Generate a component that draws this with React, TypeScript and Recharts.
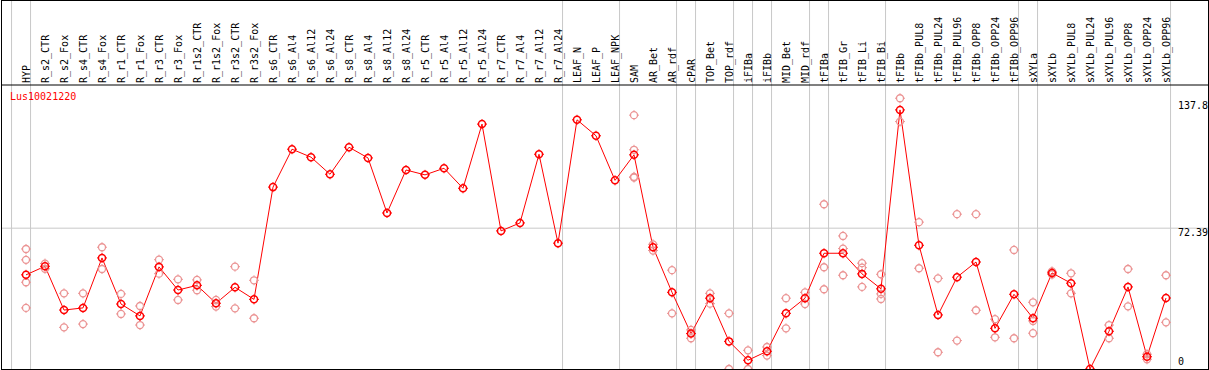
import React from 'react';
import { ComposedChart, Line, Scatter, XAxis, YAxis, ReferenceLine } from 'recharts';

const categories = [
  'HYP', 'R_s2_CTR', 'R_s2_Fox', 'R_s4_CTR', 'R_s4_Fox', 'R_r1_CTR', 'R_r1_Fox', 'R_r3_CTR', 'R_r3_Fox',
  'R_r1s2_CTR', 'R_r1s2_Fox', 'R_r3s2_CTR', 'R_r3s2_Fox', 'R_s6_CTR', 'R_s6_Al4', 'R_s6_Al12', 'R_s6_Al24',
  'R_s8_CTR', 'R_s8_Al4', 'R_s8_Al12', 'R_s8_Al24', 'R_r5_CTR', 'R_r5_Al4', 'R_r5_Al12', 'R_r5_Al24',
  'R_r7_CTR', 'R_r7_Al4', 'R_r7_Al12', 'R_r7_Al24', 'LEAF_N', 'LEAF_P', 'LEAF_NPK', 'SAM', 'AR_Bet', 'AR_rdf',
  'cPAR', 'TOP_Bet', 'TOP_rdf', 'iFIBa', 'iFIBb', 'MID_Bet', 'MID_rdf', 'tFIBa', 'tFIB_Gr', 'tFIB_Li', 'tFIB_Bi',
  'tFIBb', 'tFIBb_PUL8', 'tFIBb_PUL24', 'tFIBb_PUL96', 'tFIBb_OPP8', 'tFIBb_OPP24', 'tFIBb_OPP96', 'sXYLa',
  'sXYLb', 'sXYLb_PUL8', 'sXYLb_PUL24', 'sXYLb_PUL96', 'sXYLb_OPP8', 'sXYLb_OPP24', 'sXYLb_OPP96',
];

const meanValues = [
  48.4, 52.8, 30.3, 31.4, 57.1, 33.4, 27.3, 52.5, 40.6, 43.0, 33.8, 42.0, 35.8,
  93.5, 113.0, 108.9, 100.1, 114.0, 108.5, 80.2, 102.3, 99.8, 103.2, 92.9, 125.9, 71.0, 75.1, 110.4, 64.7,
  128.1, 119.9, 97.0, 110.1, 62.6, 39.4, 18.2, 36.4, 14.2, 4.5, 9.1, 28.6, 36.4, 59.5, 59.5, 48.9, 41.2,
  133.2, 63.6, 27.8, 47.2, 55.0, 20.9, 38.4, 26.1, 49.4, 44.1, 0, 19.4, 42.2, 6.3, 36.5,
];

const replicateValues: number[][] = [
  [61.7, 56.1, 44.6, 31.4], [54.2, 51.5], [38.9, 21.4], [38.9, 23.1], [62.6, 51.4], [38.6, 28.3],
  [32.4, 22.6], [56.2, 49.0], [46.1, 35.5], [45.8, 40.5], [35.5, 32.1], [52.6, 31.2], [45.6, 26.1],
  [], [], [], [], [], [], [], [], [], [], [], [], [], [], [], [], [], [], [],
  [130.5, 112.7, 98.8, 98.4], [64.1, 60.9], [50.8, 28.6], [20.1, 15.8], [38.9, 33.6], [28.6, 0],
  [9.6, 0], [11.3, 6.9], [36.4, 20.9], [39.4, 33.4], [84.7, 52.3, 41.0], [68.4, 61.9, 48.2],
  [54.4, 52.1, 42.2], [48.7, 38.6, 36.0], [139.2, 127.2], [75.5, 51.8], [46.6, 8.6], [79.6, 14.6],
  [79.6, 30.2], [25.6, 16.3], [61.2, 15.8], [34.3, 24.7, 18.4], [50.2, 48.6], [49.2, 38.9], [],
  [22.6, 15.8], [51.4, 32.2], [7.6, 5.0], [48.2, 24.0],
];

// group separators sit just right of these category indexes
const groupBreaks = [-1, 0, 28, 31, 34, 35, 37, 38, 39, 41, 42, 45, 52, 53, 60];
const valueTicks = [0, 72.39, 137.8];
const geneName = 'Lus10021220';

const FONT = '"DejaVu Sans Mono", monospace';

const chartData = meanValues.map((v, i) => ({ idx: i, mean: v }));
const repData = replicateValues.flatMap((reps, i) => reps.map((r) => ({ idx: i, rep: r })));

const Marker = ({ cx, cy, color, width }: any) => {
  if (cx == null || cy == null) return null;
  return (
    <g>
      <circle cx={cx} cy={cy} r={3.5} fill="none" stroke={color} strokeWidth={width} />
      <path
        d={`M${cx} ${cy - 5}v1.5M${cx} ${cy + 3.5}v1.5M${cx - 5} ${cy}h1.5M${cx + 3.5} ${cy}h1.5`}
        stroke={color}
        strokeWidth={1}
      />
    </g>
  );
};

const CategoryTick = ({ x, y, payload }: any) => (
  <text
    x={x}
    y={y}
    dy="0.35em"
    transform={`rotate(-90 ${x} ${y})`}
    textAnchor="start"
    fontFamily={FONT}
    fontSize={10}
    fill="#000"
  >
    {categories[payload.value]}
  </text>
);

const ValueTick = ({ x, y, payload }: any) => (
  <text
    x={x - 30}
    y={payload.value === 0 ? y - 4 : y + 8}
    textAnchor="start"
    fontFamily={FONT}
    fontSize={10}
    fill="#000"
  >
    {payload.value}
  </text>
);

export default function App() {
  return (
    <div style={{ position: 'absolute', left: 0, top: 0, width: 1209, height: 370, background: '#fff' }}>
      <ComposedChart width={1209} height={370} data={chartData} margin={{ top: 0, right: 1, bottom: 1, left: 1 }}>
        <XAxis
          dataKey="idx"
          type="number"
          orientation="top"
          height={85}
          domain={[-25 / 19, 1182 / 19]}
          allowDataOverflow
          ticks={categories.map((_, i) => i)}
          interval={0}
          tickSize={0}
          tickMargin={2}
          tickLine={false}
          axisLine={{ stroke: '#000' }}
          tick={<CategoryTick />}
        />
        <YAxis
          type="number"
          orientation="right"
          mirror
          domain={[0, 146]}
          allowDataOverflow
          ticks={valueTicks}
          interval={0}
          tickSize={0}
          tickMargin={0}
          tickLine={false}
          axisLine={false}
          tick={<ValueTick />}
        />
        <ReferenceLine y={72.39} stroke="#c8c8c8" strokeWidth={1} />
        {groupBreaks.map((b) => (
          <ReferenceLine
            key={b}
            ifOverflow="visible"
            segment={[{ x: b + 0.24, y: 0 }, { x: b + 0.24, y: 190 }]}
            stroke="#c8c8c8"
            strokeWidth={1}
          />
        ))}
        <Scatter
          data={repData}
          dataKey="rep"
          isAnimationActive={false}
          shape={(p: any) => <Marker cx={p.cx} cy={p.cy} color="#eb9494" width={1.3} />}
        />
        <Line
          dataKey="mean"
          stroke="#ff0000"
          strokeWidth={1}
          isAnimationActive={false}
          dot={(p: any) => <Marker key={`d${p.index}`} cx={p.cx} cy={p.cy} color="#ff0000" width={1.5} />}
          activeDot={false}
        />
      </ComposedChart>
      <div
        style={{
          position: 'absolute', left: 10, top: 91, fontFamily: FONT, fontSize: 10,
          lineHeight: '12px', color: '#ff0000',
        }}
      >
        {geneName}
      </div>
      <div
        style={{
          position: 'absolute', left: 1, top: 0, width: 1206, height: 368,
          border: '1px solid #000', pointerEvents: 'none',
        }}
      />
    </div>
  );
}
